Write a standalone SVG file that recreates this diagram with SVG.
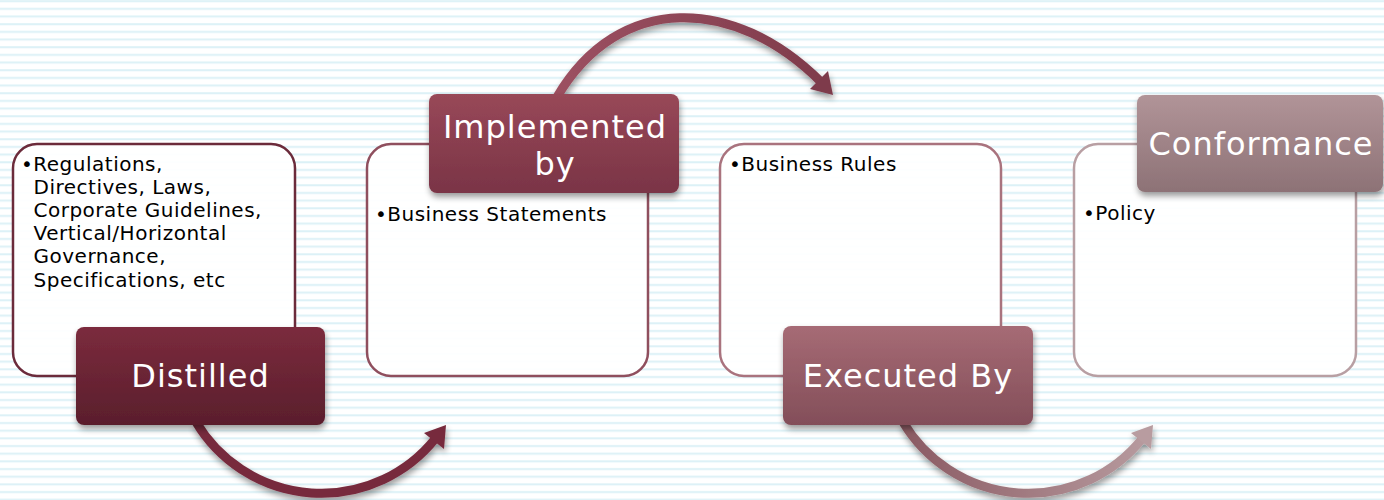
<svg xmlns="http://www.w3.org/2000/svg" width="1384" height="500" viewBox="0 0 1384 500">
  <defs>
    <pattern id="lines" x="0" y="0" width="20" height="7.67" patternUnits="userSpaceOnUse">
      <rect x="0" y="0.2" width="20" height="2" fill="#DCF1F7"/>
    </pattern>
    <linearGradient id="gDist" x1="0" y1="0" x2="0" y2="1">
      <stop offset="0" stop-color="#7B2B3D"/>
      <stop offset="1" stop-color="#5A1E2C"/>
    </linearGradient>
    <linearGradient id="gImpl" x1="0" y1="0" x2="0" y2="1">
      <stop offset="0" stop-color="#984858"/>
      <stop offset="1" stop-color="#7A3446"/>
    </linearGradient>
    <linearGradient id="gExec" x1="0" y1="0" x2="0" y2="1">
      <stop offset="0" stop-color="#A66B75"/>
      <stop offset="1" stop-color="#834E59"/>
    </linearGradient>
    <linearGradient id="gConf" x1="0" y1="0" x2="0" y2="1">
      <stop offset="0" stop-color="#B19498"/>
      <stop offset="1" stop-color="#8D7276"/>
    </linearGradient>
    <linearGradient id="gA2" gradientUnits="userSpaceOnUse" x1="557" y1="0" x2="834" y2="0">
      <stop offset="0" stop-color="#9C5061"/>
      <stop offset="1" stop-color="#7E3B4B"/>
    </linearGradient>
    <linearGradient id="gA3" gradientUnits="userSpaceOnUse" x1="900" y1="0" x2="1153" y2="0">
      <stop offset="0" stop-color="#8A5962"/>
      <stop offset="1" stop-color="#B89CA0"/>
    </linearGradient>
    <filter id="shadow" x="-20%" y="-20%" width="140%" height="150%">
      <feGaussianBlur in="SourceAlpha" stdDeviation="3"/>
      <feOffset dx="1" dy="4" result="b"/>
      <feComponentTransfer><feFuncA type="linear" slope="0.4"/></feComponentTransfer>
      <feMerge><feMergeNode/><feMergeNode in="SourceGraphic"/></feMerge>
    </filter>
    <style>
      .box { fill: #FFFFFF; fill-opacity: 0.92; stroke-width: 2.5; }
      .body { font-family: "DejaVu Sans", Verdana, sans-serif; font-size: 20px; letter-spacing: 0.5px; fill: #000000; }
      .lab { font-family: "DejaVu Sans", Verdana, sans-serif; font-size: 32px; letter-spacing: 1px; fill: #FFFFFF; text-anchor: middle; }
      .shaft { fill: none; stroke-width: 9; stroke-linecap: butt; }
    </style>
  </defs>

  <rect x="0" y="0" width="1384" height="500" fill="#FFFFFF"/>
  <rect x="0" y="0" width="1384" height="500" fill="url(#lines)"/>

  <g id="connectors" filter="url(#shadow)">
    <g id="arrow1">
      <path class="shaft" stroke="#772A3D" d="M 196 422 A 146 146 0 0 0 435 439"/>
      <polygon fill="#772A3D" points="446,425 444,449 424,433"/>
    </g>
    <g id="arrow2">
      <path class="shaft" stroke="url(#gA2)" d="M 557 97 C 618.9 -8.2, 734.7 -4.3, 821 82"/>
      <polygon fill="#7E3B4B" points="833,95 810,89 828,71"/>
    </g>
    <g id="arrow3">
      <path class="shaft" stroke="url(#gA3)" d="M 903 422 A 146 146 0 0 0 1142 439"/>
      <polygon fill="#B89CA0" points="1153,425 1151,449 1131,433"/>
    </g>
  </g>

  <g id="node1">
    <rect class="box" x="13" y="144" width="282" height="232" rx="24" stroke="#6B2B3B"/>
    <text class="body" x="21" y="170.5">•Regulations,</text>
    <text class="body" x="33.5" y="193.7">Directives, Laws,</text>
    <text class="body" x="33.5" y="216.9">Corporate Guidelines,</text>
    <text class="body" x="33.5" y="240.1">Vertical/Horizontal</text>
    <text class="body" x="33.5" y="263.3">Governance,</text>
    <text class="body" x="33.5" y="286.5">Specifications, etc</text>
    <g filter="url(#shadow)">
      <rect x="76" y="327" width="249" height="98" rx="8" fill="url(#gDist)"/>
    </g>
    <text class="lab" x="200.5" y="387">Distilled</text>
  </g>

  <g id="node2">
    <rect class="box" x="367" y="144" width="281" height="232" rx="24" stroke="#8F4F5E"/>
    <text class="body" x="375" y="221">•Business Statements</text>
    <g filter="url(#shadow)">
      <rect x="429" y="94" width="250" height="99" rx="8" fill="url(#gImpl)"/>
    </g>
    <text class="lab" x="555" y="138">Implemented</text>
    <text class="lab" x="555" y="175">by</text>
  </g>

  <g id="node3">
    <rect class="box" x="720" y="144" width="281" height="232" rx="24" stroke="#A9737E"/>
    <text class="body" x="729" y="171">•Business Rules</text>
    <g filter="url(#shadow)">
      <rect x="783" y="326" width="250" height="99" rx="8" fill="url(#gExec)"/>
    </g>
    <text class="lab" x="908" y="387">Executed By</text>
  </g>

  <g id="node4">
    <rect class="box" x="1074" y="144" width="282" height="232" rx="24" stroke="#B89FA3"/>
    <text class="body" x="1083" y="220">•Policy</text>
    <g filter="url(#shadow)">
      <rect x="1137" y="95" width="246" height="97" rx="8" fill="url(#gConf)"/>
    </g>
    <text class="lab" x="1261" y="155">Conformance</text>
  </g>
</svg>
